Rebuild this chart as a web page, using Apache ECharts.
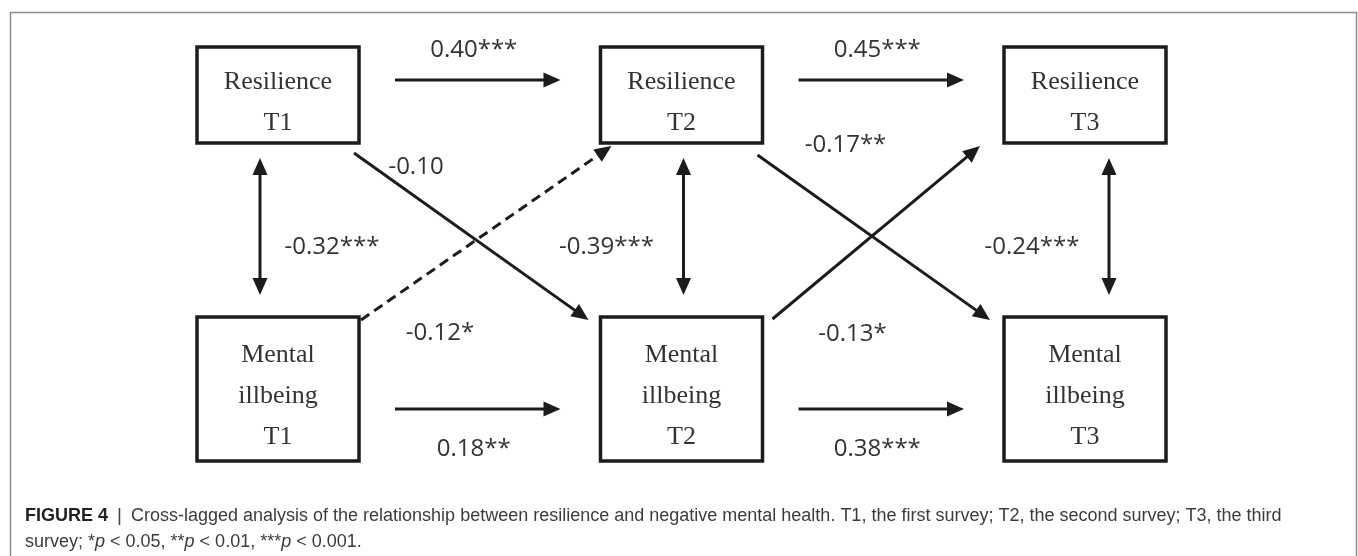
<!DOCTYPE html>
<html>
<head>
<meta charset="utf-8">
<style>
html, body { margin: 0; padding: 0; background: #fff; }
#chart { width: 1358px; height: 556px; }
</style>
<script src="https://cdn.jsdelivr.net/npm/echarts@6/dist/echarts.min.js"></script>
</head>
<body>
<div id="chart"></div>
<script>
// ---- data ----
var waves = ['T1', 'T2', 'T3'];
var constructs = ['Resilience', 'Mental\nillbeing'];
// autoregressive paths (T1->T2, T2->T3)
var resAuto = [0.40, 0.45];
var resAutoSig = ['***', '***'];
var illAuto = [0.18, 0.38];
var illAutoSig = ['**', '***'];
// cross-lagged paths
var resToIll = [-0.10, -0.17];
var resToIllSig = ['', '**'];
var illToRes = [-0.12, -0.13];
var illToResSig = ['*', '*'];
// within-wave correlations (T1, T2, T3)
var withinCorr = [-0.32, -0.39, -0.24];
var withinCorrSig = ['***', '***', '***'];

// ---- layout / style ----
var halfW = 81;
var halfH = [48, 72];
var textDy = [8, 7];
var ink = '#1c1c1c';
var vertShift = [-18, 2, 24];
var vertLabelDx = [72, -77, -77];
var resToIllNudge = [[-5, 10, -12, 3], [-5, 12, -14, 3]];
var illToResNudge = [[2, 3, 11, 3], [10, 2, -24, 3]];
var resToIllLabel = [[62, 14], [88, -10]];
var illToResLabel = [[79, 13], [80, 15]];
var dashedCross = 'illToRes0';

function fmt(v, s) { return v.toFixed(2) + s; }

// build path table: [wFrom, rFrom, wTo, rTo, kind, k]
var paths = [];
var pathText = [];
resAuto.forEach(function (v, k) { paths.push([k, 0, k + 1, 0, 0, k]); pathText.push(fmt(v, resAutoSig[k])); });
illAuto.forEach(function (v, k) { paths.push([k, 1, k + 1, 1, 0, k]); pathText.push(fmt(v, illAutoSig[k])); });
withinCorr.forEach(function (v, k) { paths.push([k, 0, k, 1, 1, k]); pathText.push(fmt(v, withinCorrSig[k])); });
resToIll.forEach(function (v, k) { paths.push([k, 0, k + 1, 1, 2, k]); pathText.push(fmt(v, resToIllSig[k])); });
illToRes.forEach(function (v, k) { paths.push([k, 1, k + 1, 0, 3, k]); pathText.push(fmt(v, illToResSig[k])); });

var nodes = [];
constructs.forEach(function (c, r) {
  waves.forEach(function (w, i) { nodes.push([i, r, c + '\n' + w]); });
});

function head(tip, from, len, wid) {
  var dx = tip[0] - from[0], dy = tip[1] - from[1];
  var d = Math.sqrt(dx * dx + dy * dy);
  var ux = dx / d, uy = dy / d;
  var bx = tip[0] - ux * len, by = tip[1] - uy * len;
  return {
    type: 'polygon',
    shape: { points: [tip, [bx - uy * wid, by + ux * wid], [bx + uy * wid, by - ux * wid]] },
    style: { fill: ink }
  };
}
function shorten(p, q, len) {
  var dx = q[0] - p[0], dy = q[1] - p[1];
  var d = Math.sqrt(dx * dx + dy * dy);
  return [q[0] - dx / d * len, q[1] - dy / d * len];
}

var labelFont = '24px "Open Sans"';

var chart = echarts.init(document.getElementById('chart'));
chart.setOption({
  animation: false,
  title: {
    left: 20,
    top: 498,
    text: '{b|FIGURE 4} {s||} Cross-lagged analysis of the relationship between resilience and negative mental health. T1, the first survey; T2, the second survey; T3, the third\nsurvey; *{i|p} < 0.05, **{i|p} < 0.01, ***{i|p} < 0.001.',
    textStyle: {
      fontFamily: 'Liberation Sans',
      fontSize: 18,
      fontWeight: 'normal',
      color: '#3c3c3c',
      lineHeight: 26,
      rich: {
        b: { fontFamily: 'Liberation Sans', fontSize: 18, fontWeight: 'bold', color: '#222', lineHeight: 26 },
        s: { fontFamily: 'Liberation Sans', fontSize: 19, color: '#444', lineHeight: 26, padding: [0, 4] },
        i: { fontFamily: 'Liberation Sans', fontSize: 18, fontStyle: 'italic', color: '#3c3c3c', lineHeight: 26 }
      }
    }
  },
  graphic: [{
    type: 'rect', left: 8, top: 10, silent: true,
    shape: { width: 1346, height: 600 },
    style: { fill: 'none', stroke: '#8c8c8c', lineWidth: 1.5 }
  }],
  grid: { left: 278, right: 273, top: 95, bottom: 167 },
  xAxis: { type: 'value', min: 0, max: 2, show: false },
  yAxis: { type: 'value', min: 0, max: 1, inverse: true, show: false },
  series: [{
    type: 'custom',
    clip: false,
    data: nodes,
    renderItem: function (params, api) {
      var r = api.value(1);
      var c = api.coord([api.value(0), r]);
      var h = halfH[r];
      return {
        type: 'group',
        children: [{
          type: 'rect',
          shape: { x: c[0] - halfW, y: c[1] - h, width: halfW * 2, height: h * 2 },
          style: { fill: '#fff', stroke: ink, lineWidth: 3.5 }
        }, {
          type: 'text',
          style: {
            x: c[0], y: c[1] + textDy[r],
            text: nodes[params.dataIndex][2],
            font: '26px "Liberation Serif"',
            lineHeight: 41,
            fill: '#333',
            align: 'center', verticalAlign: 'middle'
          }
        }]
      };
    }
  }, {
    type: 'custom',
    clip: false,
    data: paths,
    renderItem: function (params, api) {
      var p = paths[params.dataIndex];
      var a = api.coord([p[0], p[1]]);
      var b = api.coord([p[2], p[3]]);
      var kind = p[4], k = p[5];
      var s, e, lab, dashed = false, both = false;
      if (kind === 0) {
        var dy = p[1] === 0 ? -15 : 20;
        s = [a[0] + halfW + 36, a[1] + dy];
        e = [b[0] - halfW - 40, b[1] + dy];
        lab = [(s[0] + e[0]) / 2 - 4, s[1] + (p[1] === 0 ? -30 : 40)];
      } else if (kind === 1) {
        var x = a[0] + vertShift[k];
        s = [x, a[1] + halfH[0] + 15];
        e = [x, b[1] - halfH[1] - 22];
        both = true;
        lab = [x + vertLabelDx[k], (s[1] + e[1]) / 2 + 21];
      } else if (kind === 2) {
        var n = resToIllNudge[k];
        s = [a[0] + halfW + n[0], a[1] + halfH[0] + n[1]];
        e = [b[0] - halfW + n[2], b[1] - halfH[1] + n[3]];
        lab = [s[0] + resToIllLabel[k][0], s[1] + resToIllLabel[k][1]];
      } else {
        var m = illToResNudge[k];
        s = [a[0] + halfW + m[0], a[1] - halfH[1] + m[1]];
        e = [b[0] - halfW + m[2], b[1] + halfH[0] + m[3]];
        lab = [s[0] + illToResLabel[k][0], s[1] + illToResLabel[k][1]];
        dashed = ('illToRes' + k) === dashedCross;
      }
      var L = 17, W = 7.5;
      var le = shorten(s, e, L * 0.7);
      var ls = both ? shorten(e, s, L * 0.7) : s;
      var kids = [{
        type: 'line',
        shape: { x1: ls[0], y1: ls[1], x2: le[0], y2: le[1] },
        style: { stroke: ink, lineWidth: 3, lineDash: dashed ? [10, 6] : null }
      }, head(e, s, L, W)];
      if (both) kids.push(head(s, e, L, W));
      kids.push({
        type: 'text',
        style: {
          x: lab[0], y: lab[1], text: pathText[params.dataIndex],
          font: labelFont, fill: '#333',
          align: 'center', verticalAlign: 'middle'
        }
      });
      return { type: 'group', children: kids };
    }
  }]
});
</script>
</body>
</html>
